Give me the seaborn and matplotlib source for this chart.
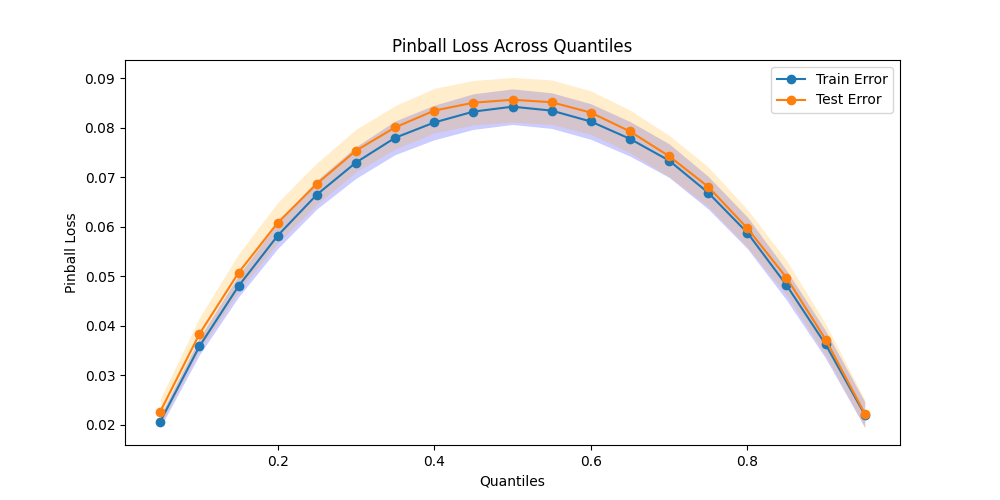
import numpy as np
import pandas as pd
import matplotlib
matplotlib.use("Agg")
import matplotlib.pyplot as plt
import seaborn as sns

quantiles = [0.05, 0.10, 0.15, 0.20, 0.25, 0.30, 0.35, 0.40, 0.45, 0.50,
             0.55, 0.60, 0.65, 0.70, 0.75, 0.80, 0.85, 0.90, 0.95]

train_error = [0.0206, 0.0358, 0.0480, 0.0582, 0.0665, 0.0730, 0.0780, 0.0811, 0.0833, 0.0843,
               0.0835, 0.0813, 0.0778, 0.0734, 0.0669, 0.0588, 0.0482, 0.0362, 0.0220]
test_error = [0.0226, 0.0383, 0.0507, 0.0608, 0.0687, 0.0754, 0.0801, 0.0835, 0.0851, 0.0857,
              0.0852, 0.0831, 0.0793, 0.0743, 0.0681, 0.0597, 0.0497, 0.0372, 0.0222]

# spread across folds
train_std = [0.0012, 0.0017, 0.0022, 0.0026, 0.0029, 0.0032, 0.0034, 0.0035, 0.0036, 0.0036,
             0.0036, 0.0036, 0.0035, 0.0034, 0.0033, 0.0032, 0.0030, 0.0028, 0.0026]
test_std = [0.0026, 0.0033, 0.0038, 0.0041, 0.0042, 0.0043, 0.0044, 0.0045, 0.0045, 0.0045,
            0.0045, 0.0044, 0.0043, 0.0042, 0.0040, 0.0038, 0.0035, 0.0032, 0.0028]

df = pd.DataFrame({
    "quantile": quantiles * 2,
    "loss": train_error + test_error,
    "set": ["Train Error"] * len(quantiles) + ["Test Error"] * len(quantiles),
})

fig, ax = plt.subplots(figsize=(10, 5), dpi=100)

q = np.array(quantiles)
tr = np.array(train_error)
te = np.array(test_error)
ax.fill_between(q, tr - np.array(train_std), tr + np.array(train_std), color="blue", alpha=0.2, linewidth=0)
ax.fill_between(q, te - np.array(test_std), te + np.array(test_std), color="orange", alpha=0.2, linewidth=0)

sns.lineplot(data=df, x="quantile", y="loss", hue="set", marker="o", markersize=7,
             markeredgewidth=0, palette=["tab:blue", "tab:orange"], ax=ax)

ax.set_title("Pinball Loss Across Quantiles")
ax.set_xlabel("Quantiles")
ax.set_ylabel("Pinball Loss")
ax.legend(loc="upper right")

plt.savefig("out.png", dpi=100)
